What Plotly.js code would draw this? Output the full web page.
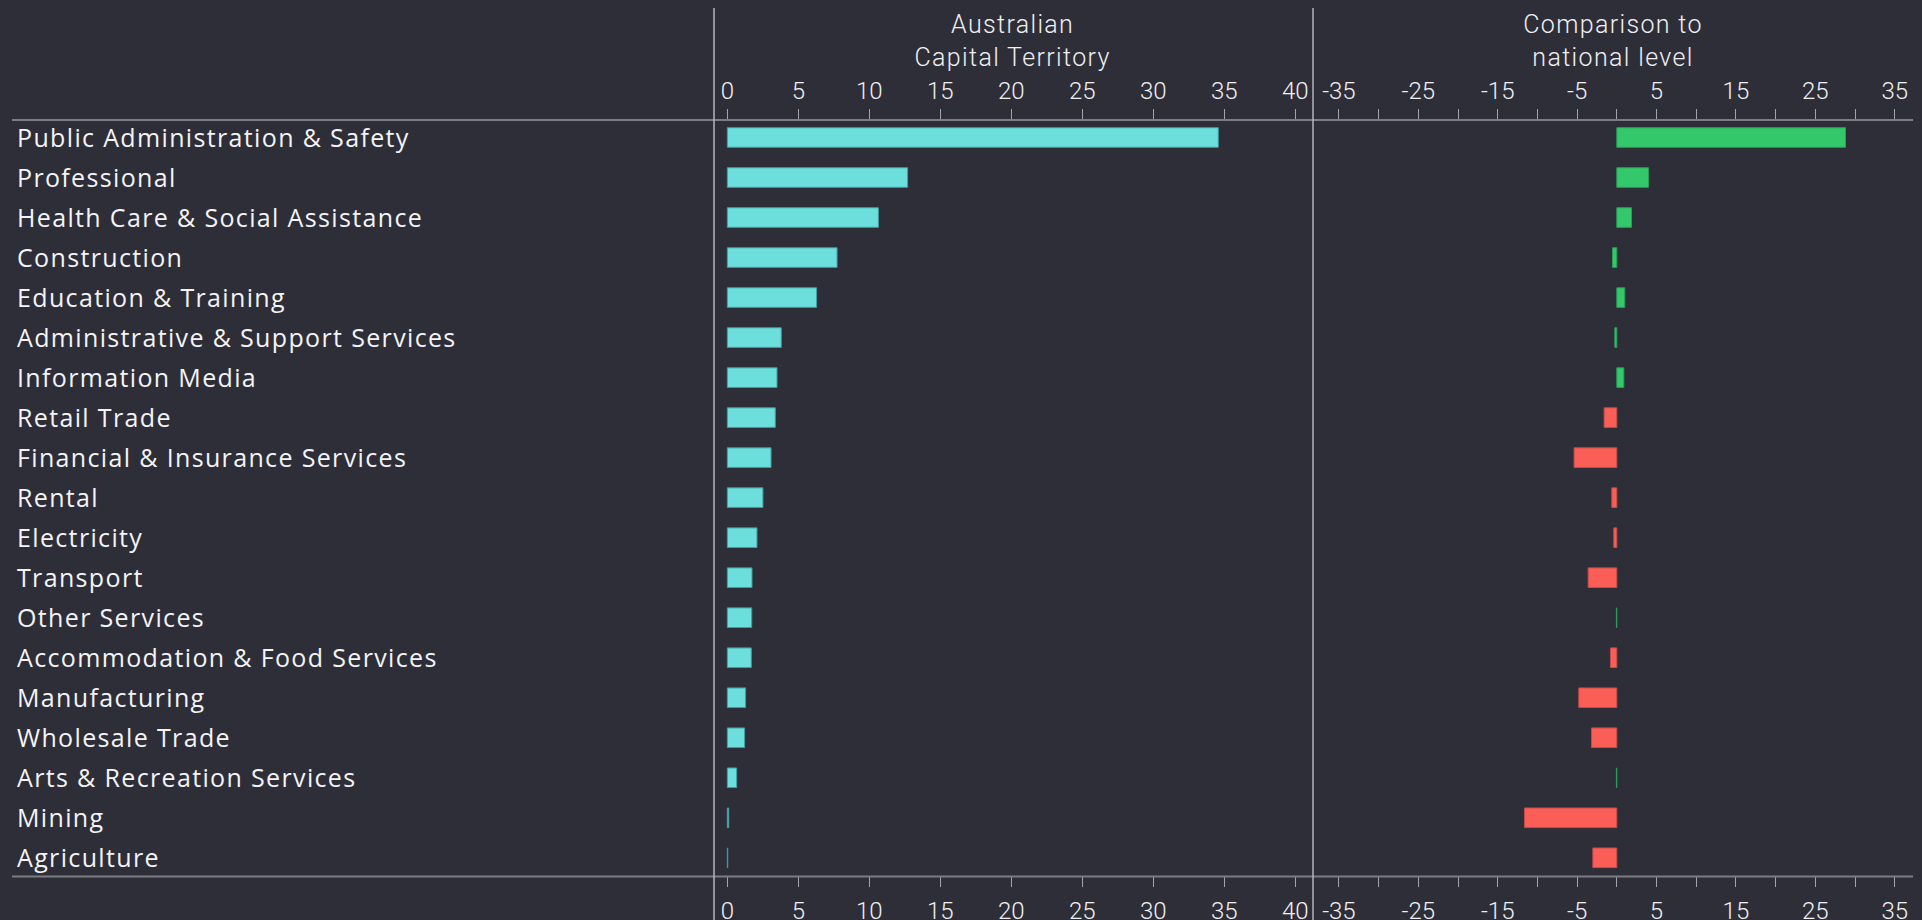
<!DOCTYPE html>
<html>
<head>
<meta charset="utf-8">
<script src="https://cdn.plot.ly/plotly-3.0.1.min.js"></script>
<style>
  html, body { margin: 0; padding: 0; background: #2e2e38; }
  #chart { width: 1922px; height: 920px; }
  g.annotation text.annotation-text { letter-spacing: 1.35px; }
</style>
</head>
<body>
<div id="chart"></div>
<script>
// ---- data ----
const categories = [
  "Public Administration & Safety",
  "Professional",
  "Health Care & Social Assistance",
  "Construction",
  "Education & Training",
  "Administrative & Support Services",
  "Information Media",
  "Retail Trade",
  "Financial & Insurance Services",
  "Rental",
  "Electricity",
  "Transport",
  "Other Services",
  "Accommodation & Food Services",
  "Manufacturing",
  "Wholesale Trade",
  "Arts & Recreation Services",
  "Mining",
  "Agriculture"
];
// share of employment in the ACT (%)
const actShare = [34.58, 12.70, 10.64, 7.73, 6.29, 3.80, 3.50, 3.38, 3.08, 2.51,
                  2.09, 1.74, 1.72, 1.69, 1.29, 1.22, 0.66, 0.10, 0.03];
// difference to national level (percentage points)
const diffNational = [28.8, 3.99, 1.85, -0.54, 1.0, -0.25, 0.88, -1.6, -5.38, -0.63,
                      -0.38, -3.61, -0.05, -0.8, -4.79, -3.19, -0.05, -11.63, -3.02];
// whether the sector is flagged as above the national level (green) or below (red)
const aboveNational = [true, true, true, true, true, true, true, false, false, false,
                       false, false, true, false, false, false, true, false, false];
const leftTickVals = [0, 5, 10, 15, 20, 25, 30, 35, 40];
const rightTickVals = [-35, -25, -15, -5, 5, 15, 25, 35];
const rightTickText = rightTickVals.map(v => String(v));
const leftTitle = "Australian<br>Capital Territory";
const rightTitle = "Comparison to<br>national level";

// ---- styling / layout helpers ----
const W = 1922, H = 920;
const px = x => x / W;
const py = y => (H - y) / H;
const BG = "#2e2e38";
const TICKFONT = { family: "Roboto, 'Open Sans', sans-serif", size: 24, color: "#f0f0f2", weight: 300 };
const TITLEFONT = { family: "Roboto, 'Open Sans', sans-serif", size: 25, color: "#f0f0f2", weight: 300 };
const LABELFONT = { family: "'Open Sans', sans-serif", size: 25, color: "#f4f4f6" };

const GREEN = "#33c86a", GREEN_LINE = "#2a9e57";
const RED = "#fb5e56", RED_LINE = "#c44c48";
const CYAN = "#6cdfdc", CYAN_LINE = "#3f9c9e";

const traces = [
  {
    type: "bar", orientation: "h",
    x: actShare, y: categories,
    xaxis: "x", yaxis: "y",
    width: 0.49,
    marker: { color: CYAN, line: { color: CYAN_LINE, width: 1 } },
    hoverinfo: "x+y", showlegend: false
  },
  {
    type: "bar", orientation: "h",
    x: diffNational, y: categories,
    xaxis: "x2", yaxis: "y",
    width: 0.49,
    marker: {
      color: aboveNational.map(a => a ? GREEN : RED),
      line: { color: aboveNational.map(a => a ? GREEN_LINE : RED_LINE), width: 1 }
    },
    hoverinfo: "x+y", showlegend: false
  },
  // invisible carriers so the top axes are drawn
  { type: "scatter", mode: "markers", x: actShare, y: categories, xaxis: "x3", yaxis: "y",
    marker: { opacity: 0 }, hoverinfo: "skip", showlegend: false },
  { type: "scatter", mode: "markers", x: diffNational, y: categories, xaxis: "x4", yaxis: "y",
    marker: { opacity: 0 }, hoverinfo: "skip", showlegend: false }
];

const leftRange = [-0.937, 41.25];
const rightRange = [-38.26, 37.30];
const leftDomain = [px(714), px(1313)];
const rightDomain = [px(1313), px(1913)];

const commonX = {
  showgrid: false, zeroline: false, showline: false,
  ticks: "outside", ticklen: 10, tickwidth: 1, tickcolor: "#a4a4aa",
  tickfont: TICKFONT, fixedrange: true
};

const leftAxis = Object.assign({}, commonX, {
  domain: leftDomain, range: leftRange, tickmode: "array", tickvals: leftTickVals,
  ticktext: leftTickVals.map(String)
});
const rightAxis = Object.assign({}, commonX, {
  domain: rightDomain, range: rightRange, tickmode: "array", tickvals: rightTickVals,
  ticktext: rightTickText,
  minor: { tick0: 0, dtick: 10, ticks: "outside", ticklen: 10, tickwidth: 1, tickcolor: "#a4a4aa", showgrid: false }
});

const layout = {
  width: W, height: H,
  margin: { l: 0, r: 0, t: 0, b: 0, pad: 0 },
  paper_bgcolor: BG, plot_bgcolor: BG,
  showlegend: false,
  bargap: 0,
  xaxis: Object.assign({}, leftAxis, { side: "bottom", anchor: "y", ticklabelstandoff: 3 }),
  xaxis2: Object.assign({}, rightAxis, { side: "bottom", anchor: "y", ticklabelstandoff: 3 }),
  xaxis3: Object.assign({}, leftAxis, { side: "top", anchor: "y", overlaying: "x" }),
  xaxis4: Object.assign({}, rightAxis, { side: "top", anchor: "y", overlaying: "x2" }),
  yaxis: {
    domain: [py(876), py(120)],
    type: "category",
    range: [18.455, -0.4375],
    showticklabels: false, ticks: "", showgrid: false, zeroline: false, showline: false,
    fixedrange: true
  },
  shapes: [
    // horizontal rules (top and bottom)
    { type: "line", xref: "paper", yref: "paper", x0: px(12), x1: px(1913), y0: py(120), y1: py(120),
      line: { color: "#7c7c84", width: 2 } },
    { type: "line", xref: "paper", yref: "paper", x0: px(12), x1: px(1913), y0: py(876.5), y1: py(876.5),
      line: { color: "#7c7c84", width: 2 } },
    // vertical dividers
    { type: "line", xref: "paper", yref: "paper", x0: px(714), x1: px(714), y0: py(8), y1: py(920),
      line: { color: "#b4b4b8", width: 1.5 } },
    { type: "line", xref: "paper", yref: "paper", x0: px(1313), x1: px(1313), y0: py(8), y1: py(920),
      line: { color: "#b4b4b8", width: 1.5 } }
  ],
  annotations: categories.map(c => ({
    xref: "paper", yref: "y", x: px(15), y: c, text: c, showarrow: false, yshift: 1,
    xanchor: "left", yanchor: "middle", align: "left", font: LABELFONT
  })).concat([
    { xref: "paper", yref: "paper", x: px(1013), y: py(41), text: leftTitle, showarrow: false,
      xanchor: "center", yanchor: "middle", align: "center", font: TITLEFONT },
    { xref: "paper", yref: "paper", x: px(1613), y: py(41), text: rightTitle, showarrow: false,
      xanchor: "center", yanchor: "middle", align: "center", font: TITLEFONT }
  ])
};

Plotly.newPlot("chart", traces, layout, { displayModeBar: false, staticPlot: true });
</script>
</body>
</html>
